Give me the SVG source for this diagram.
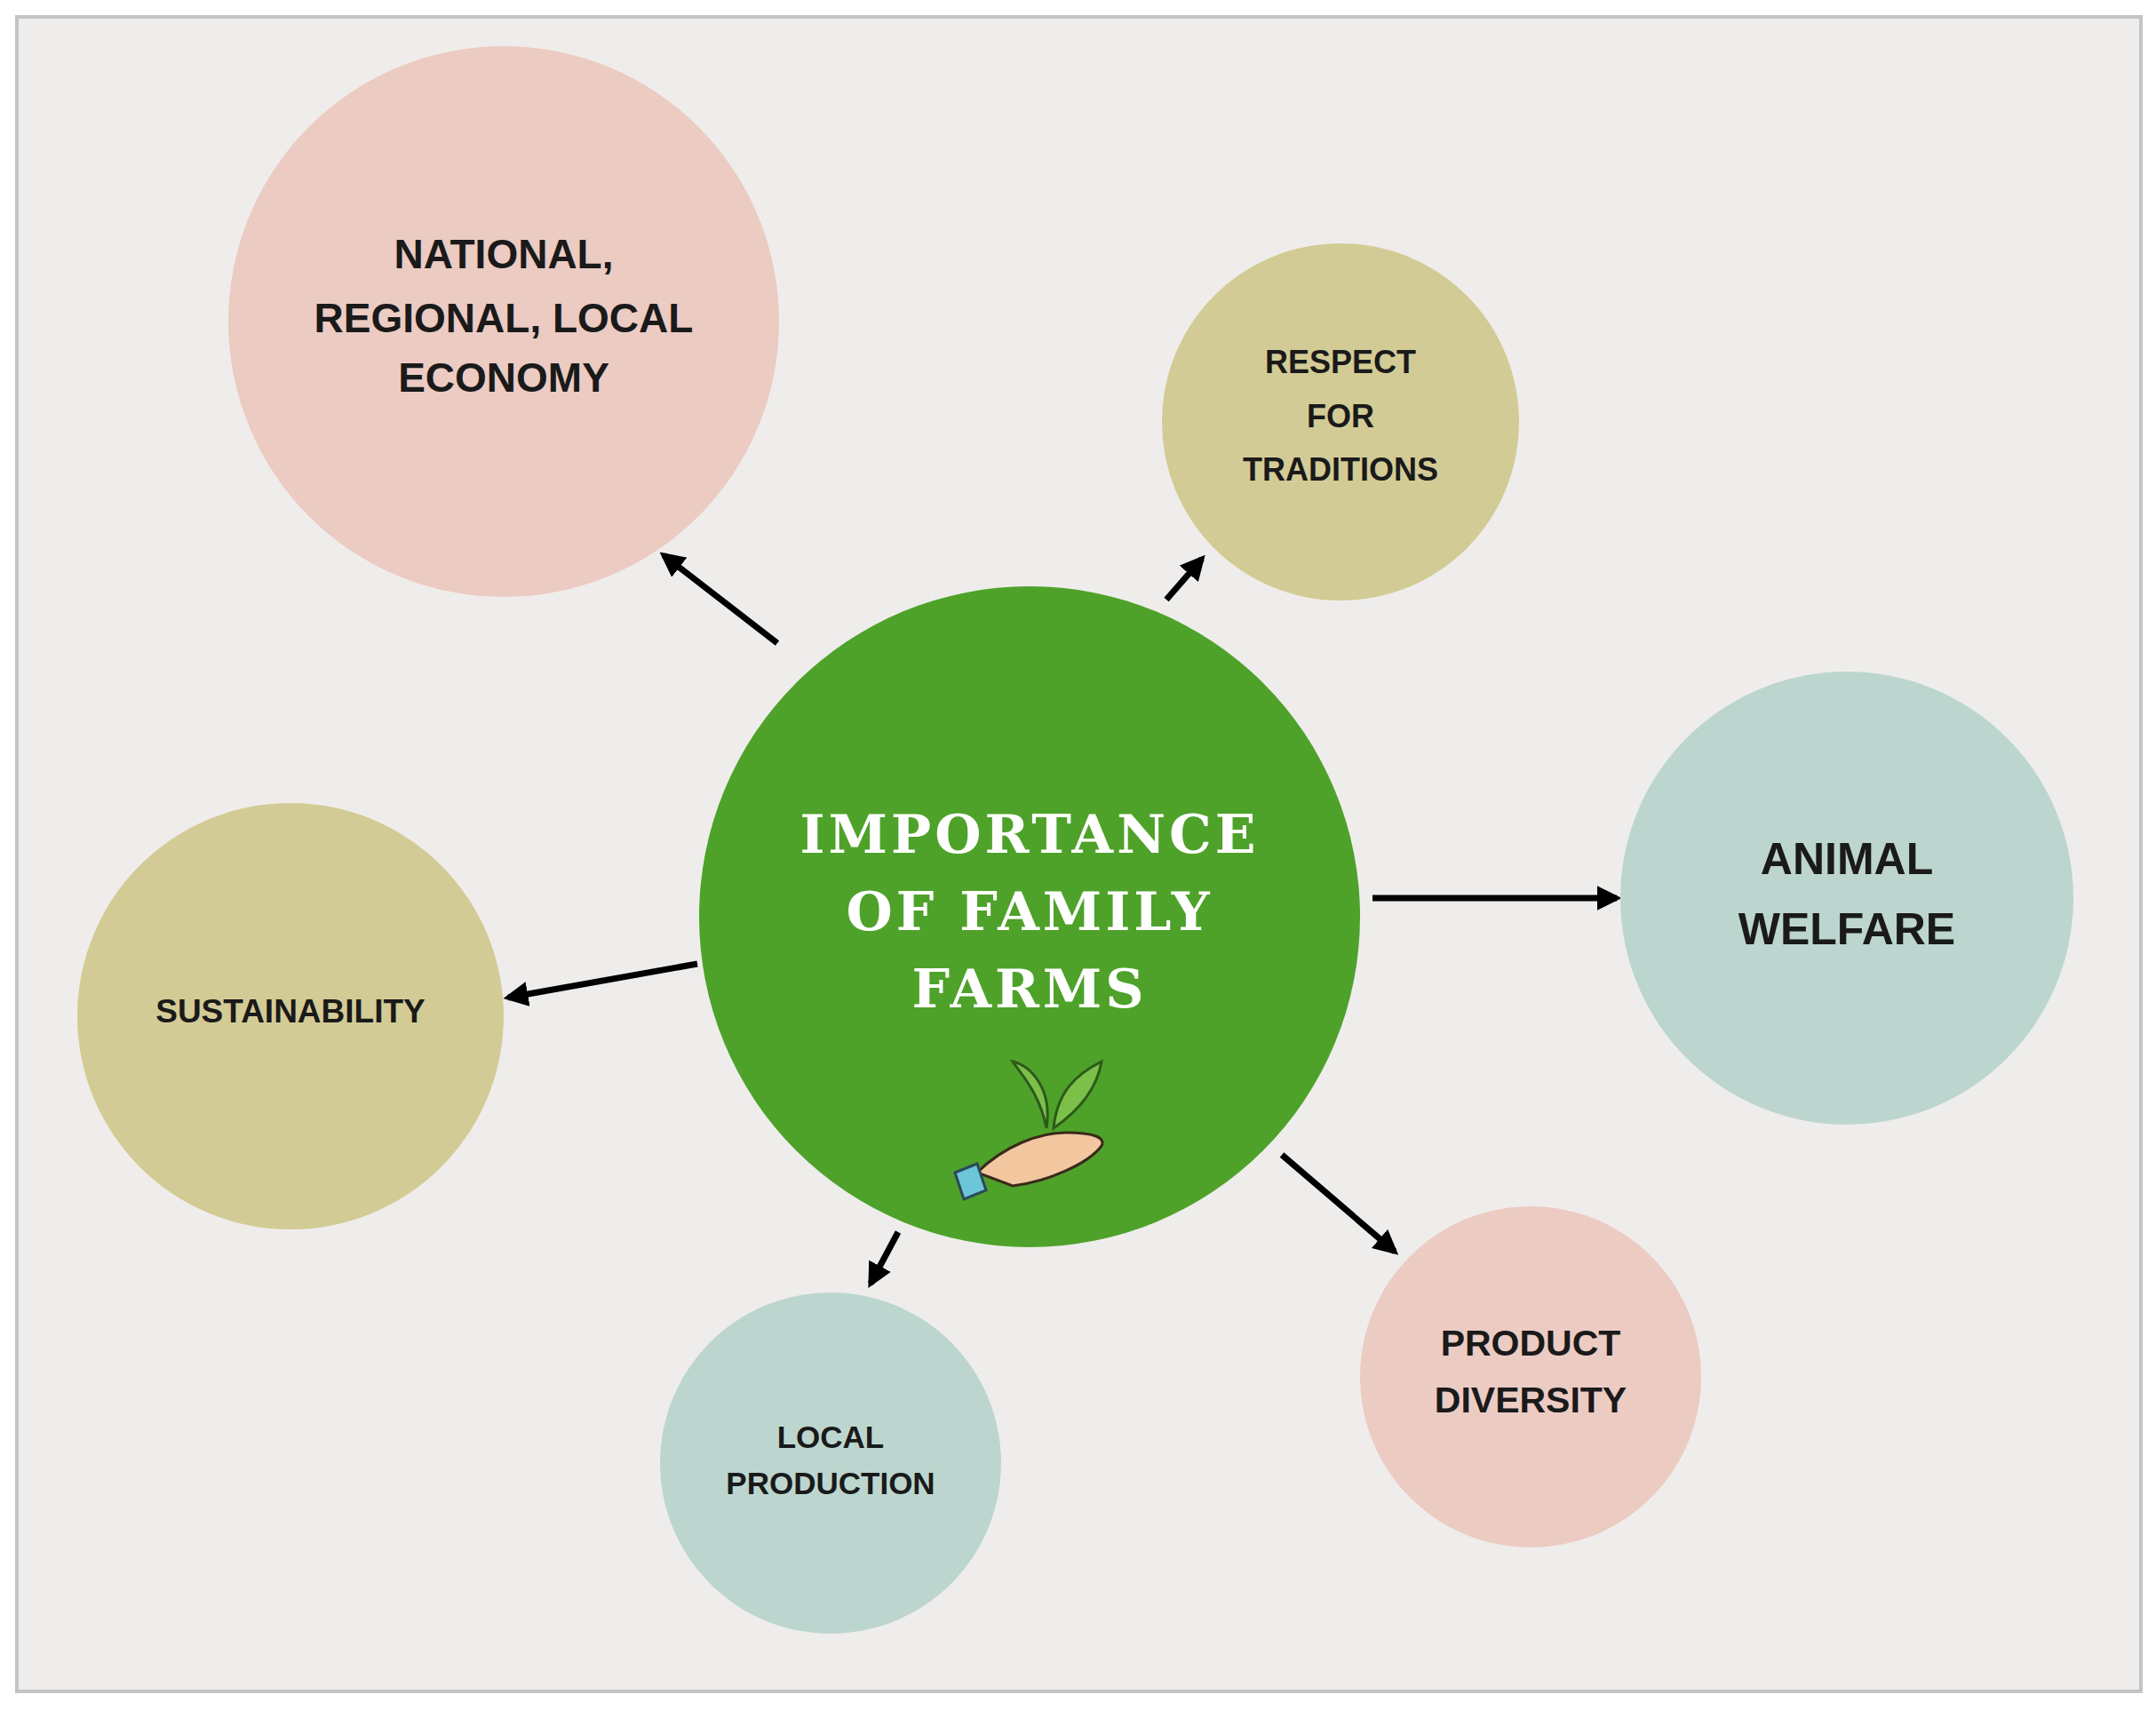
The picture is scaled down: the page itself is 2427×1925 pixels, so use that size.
<svg xmlns="http://www.w3.org/2000/svg" width="2427" height="1925" viewBox="0 0 2427 1925">
<style>
.t{font-family:"Liberation Sans",Arial,sans-serif;font-weight:bold;fill:#1a1a1a;text-anchor:middle;dominant-baseline:middle}
.c{font-family:"DejaVu Serif","Liberation Serif",serif;font-weight:bold;fill:#ffffff;text-anchor:middle;dominant-baseline:middle;letter-spacing:4px}
.a{stroke:#000;stroke-width:7;fill:none;marker-end:url(#ah)}
</style>
<defs>
<marker id="ah" viewBox="0 0 10 10" refX="8" refY="5" markerWidth="4" markerHeight="4" orient="auto" markerUnits="strokeWidth"><path d="M0,0 L10,5 L0,10 z" fill="#000"/></marker>
</defs>
<rect x="0" y="0" width="2427" height="1925" fill="#ffffff"/>
<rect x="19" y="19" width="2391" height="1885" fill="#efedeb" stroke="#c4c4c4" stroke-width="4"/>
<g id="connectors">
<line class="a" x1="875" y1="724" x2="747" y2="625"/>
<line class="a" x1="1313" y1="675" x2="1353" y2="629"/>
<line class="a" x1="1545" y1="1011" x2="1820" y2="1011"/>
<line class="a" x1="785" y1="1085" x2="572" y2="1123"/>
<line class="a" x1="1011" y1="1387" x2="980" y2="1445"/>
<line class="a" x1="1443" y1="1300" x2="1570" y2="1409"/>
</g>
<g id="center">
<circle cx="1159" cy="1032" r="372" fill="#4ea22a"/>
<text class="c" x="1159" y="944" font-size="60">IMPORTANCE</text>
<text class="c" x="1159" y="1031" font-size="60">OF FAMILY</text>
<text class="c" x="1159" y="1118" font-size="60">FARMS</text>
<g id="icon">
<path d="M1178,1270 C1170,1230 1150,1210 1140,1195 C1160,1200 1185,1225 1178,1270 Z" fill="#7cc04a" stroke="#2d5a1a" stroke-width="3"/>
<path d="M1186,1270 C1190,1230 1210,1210 1240,1195 C1235,1225 1215,1250 1186,1270 Z" fill="#7cc04a" stroke="#2d5a1a" stroke-width="3"/>
<path d="M1100,1320 C1130,1290 1170,1275 1200,1275 C1230,1275 1245,1280 1240,1290 C1225,1310 1180,1330 1140,1335 Z" fill="#f2c7a0" stroke="#3a2a1a" stroke-width="3"/>
<path d="M1075,1320 L1100,1310 L1110,1340 L1085,1350 Z" fill="#6cc6d9" stroke="#2a4a5a" stroke-width="3"/>
</g>
</g>
<g id="national">
<circle cx="567" cy="362" r="310" fill="#eccbc3"/>
<text class="t" x="567" y="290" font-size="46">NATIONAL,</text>
<text class="t" x="567" y="362" font-size="46">REGIONAL, LOCAL</text>
<text class="t" x="567" y="429" font-size="46">ECONOMY</text>
</g>
<g id="respect">
<circle cx="1509" cy="475" r="201" fill="#d3cb95"/>
<text class="t" x="1509" y="410" font-size="36">RESPECT</text>
<text class="t" x="1509" y="471" font-size="36">FOR</text>
<text class="t" x="1509" y="531" font-size="36">TRADITIONS</text>
</g>
<g id="animal">
<circle cx="2079" cy="1011" r="255" fill="#bcd6cf"/>
<text class="t" x="2079" y="971" font-size="50">ANIMAL</text>
<text class="t" x="2079" y="1050" font-size="50">WELFARE</text>
</g>
<g id="sustainability">
<circle cx="327" cy="1144" r="240" fill="#d3cb95"/>
<text class="t" x="327" y="1141" font-size="37">SUSTAINABILITY</text>
</g>
<g id="local">
<circle cx="935" cy="1647" r="192" fill="#bcd6cf"/>
<text class="t" x="935" y="1621" font-size="35">LOCAL</text>
<text class="t" x="935" y="1673" font-size="35">PRODUCTION</text>
</g>
<g id="product">
<circle cx="1723" cy="1550" r="192" fill="#eccbc3"/>
<text class="t" x="1723" y="1515" font-size="41">PRODUCT</text>
<text class="t" x="1723" y="1579" font-size="41">DIVERSITY</text>
</g>
</svg>
